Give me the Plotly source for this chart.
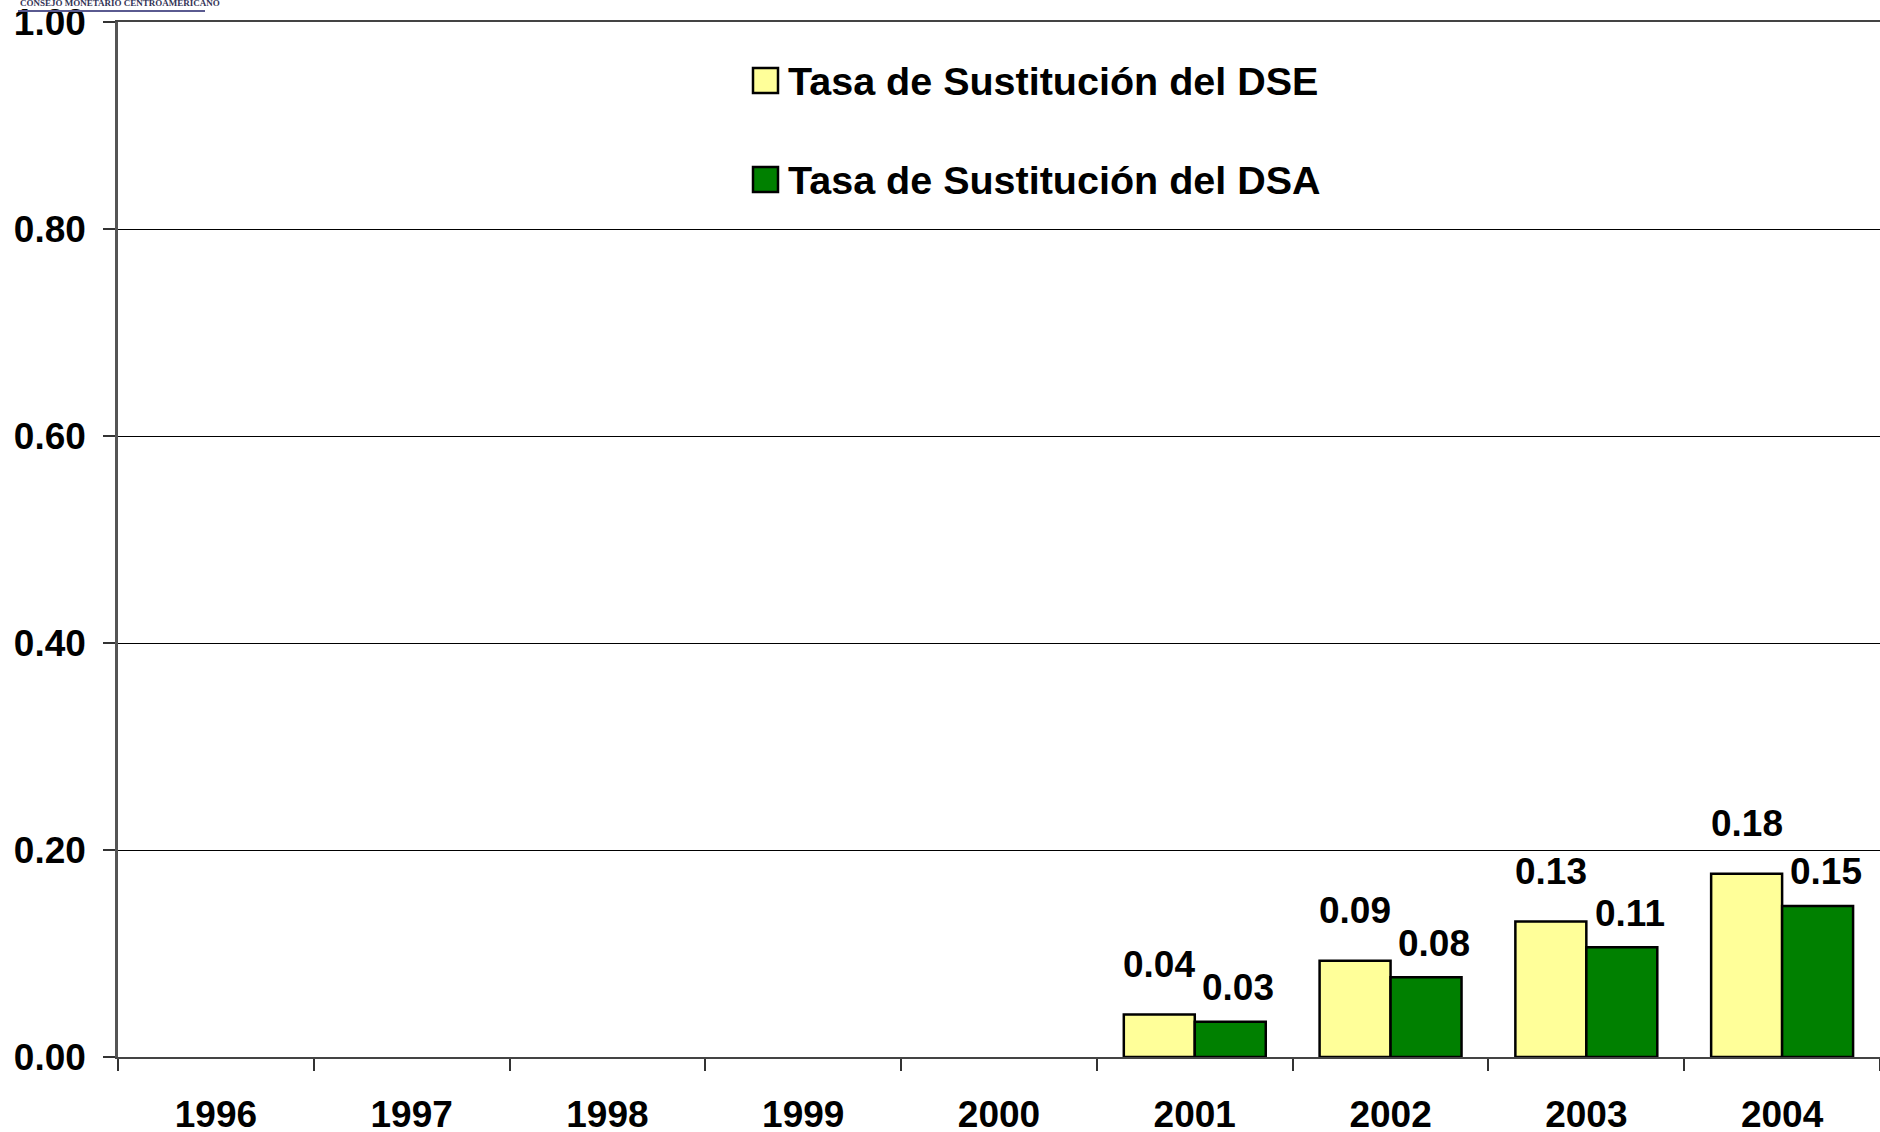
import plotly.graph_objects as go

# data
years = ["1996", "1997", "1998", "1999", "2000", "2001", "2002", "2003", "2004"]
dse_values = [None, None, None, None, None, 0.041, 0.093, 0.131, 0.177]
dsa_values = [None, None, None, None, None, 0.034, 0.077, 0.106, 0.146]
dse_name = "Tasa de Sustitución del DSE"
dsa_name = "Tasa de Sustitución del DSA"
y_ticks = [0.0, 0.2, 0.4, 0.6, 0.8, 1.0]

FONT = "Liberation Sans, Arial, sans-serif"
YELLOW = "#FFFF99"
GREEN = "#008000"
W, H = 1880, 1132
M_L, M_R, M_T, M_B = 118, 0, 22, 75
plot_w = W - M_L - M_R
plot_h = H - M_T - M_B
bargap = 0.275
bar_px = plot_w / len(years) * (1 - bargap) / 2


# figure pixel -> paper coordinates
def px_x(px):
    return (px - M_L) / plot_w


def px_y(py):
    return (H - M_B - py) / plot_h


fig = go.Figure()
fig.add_trace(go.Bar(x=years, y=dse_values, name=dse_name,
                     marker=dict(color=YELLOW, line=dict(color="black", width=2.5)),
                     showlegend=False))
fig.add_trace(go.Bar(x=years, y=dsa_values, name=dsa_name,
                     marker=dict(color=GREEN, line=dict(color="black", width=2.5)),
                     showlegend=False))

# value labels above the bars (x given as category index)
for values, xshift, yshift in [(dse_values, -bar_px / 2, 50), (dsa_values, bar_px / 2 + 8, 34)]:
    for i, v in enumerate(values):
        if v is None:
            continue
        fig.add_annotation(x=i, y=v, text=f"{v:.2f}", showarrow=False,
                           xshift=xshift, yshift=yshift, yanchor="middle",
                           font=dict(family=FONT, size=37, color="black", weight="bold"))

# legend drawn by hand so the swatches can be large
for name, color, top in [(dse_name, YELLOW, 68), (dsa_name, GREEN, 167)]:
    fig.add_shape(type="rect", xref="paper", yref="paper",
                  x0=px_x(753), x1=px_x(778), y0=px_y(top + 25), y1=px_y(top),
                  fillcolor=color, line=dict(color="black", width=2.5))
    fig.add_annotation(xref="paper", yref="paper", x=px_x(786), y=px_y(top + 13),
                       xanchor="left", yanchor="middle", showarrow=False, text=name,
                       font=dict(family=FONT, size=39.5, color="black", weight="bold"))

# small logo text in the top-left corner
fig.add_annotation(xref="paper", yref="paper", x=px_x(18), y=px_y(3),
                   xanchor="left", yanchor="middle", showarrow=False,
                   text="CONSEJO MONETARIO CENTROAMERICANO",
                   font=dict(family="Liberation Serif, serif", size=9, color="#333355"))
fig.add_shape(type="line", xref="paper", yref="paper",
              x0=px_x(18), x1=px_x(205), y0=px_y(11), y1=px_y(11),
              line=dict(color="#5a5a90", width=2))

fig.update_layout(
    width=W, height=H,
    margin=dict(l=M_L, r=M_R, t=M_T, b=M_B, pad=0),
    paper_bgcolor="white", plot_bgcolor="white",
    barmode="group", bargap=bargap, bargroupgap=0,
    font=dict(family=FONT, size=37, color="black", weight="bold"),
)
fig.update_xaxes(
    type="category", range=[-0.5, len(years) - 0.5], autorange=False, automargin=False,
    tickson="boundaries", ticks="outside", ticklen=12,
    tickcolor="#333333", tickwidth=1.5, showgrid=False, tickangle=0,
    showline=True, linecolor="#444444", linewidth=2, mirror=True,
    ticklabelstandoff=24,
    tickfont=dict(family=FONT, size=37, color="black", weight="bold"),
)
fig.update_yaxes(
    range=[0, 1], tickvals=y_ticks, tickformat=".2f", automargin=False,
    ticks="outside", ticklen=12, tickcolor="#333333", tickwidth=1.5,
    showgrid=True, gridcolor="black", gridwidth=1,
    showline=True, linecolor="#555555", linewidth=2.5,
    zeroline=False, ticklabelstandoff=10,
    tickfont=dict(family=FONT, size=37, color="black", weight="bold"),
)

# drop the page's default body margin so the figure fills the window
fig.write_html("out.html", config={"displayModeBar": False},
               post_script="document.body.style.margin='0';document.body.style.overflow='hidden';")
